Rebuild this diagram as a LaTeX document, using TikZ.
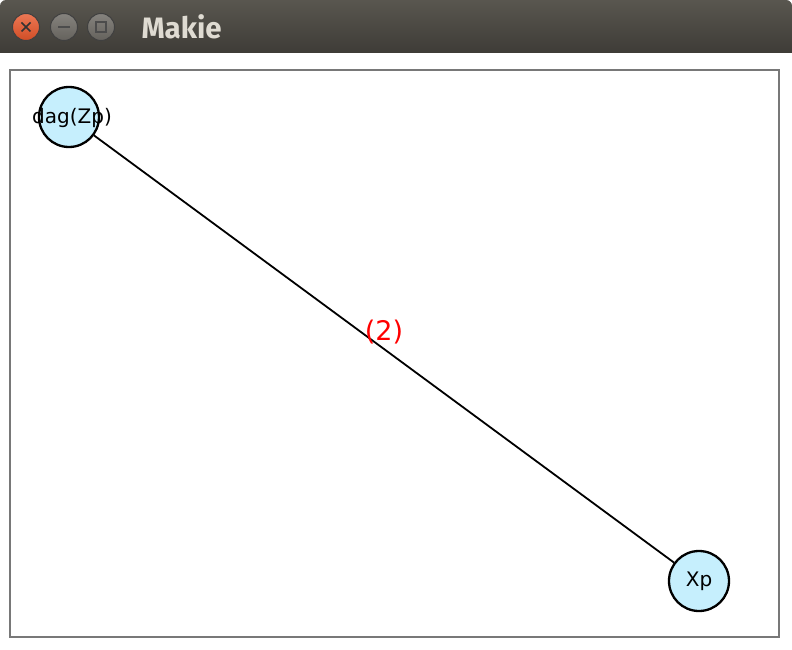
\documentclass[tikz,border=0pt]{standalone}
\usepackage{fontspec}
\setmainfont{DejaVu Sans}
\newfontfamily\titlefont{Fira Sans}

\definecolor{barTop}{RGB}{89,86,79}
\definecolor{barBottom}{RGB}{62,60,55}
\definecolor{titleGray}{RGB}{223,219,210}
\definecolor{closeOrange}{RGB}{232,86,42}
\definecolor{btnGray}{RGB}{112,109,103}
\definecolor{vertexBlue}{RGB}{198,239,253}
\definecolor{frameGray}{RGB}{120,120,120}

\newcommand{\vertexfont}{\fontsize{20}{22}\selectfont}

\tikzset{
  winbtn/.style={circle, draw=black!75, line width=1pt, minimum size=27pt, inner sep=0pt},
  vertex/.style={circle, draw=black, line width=2.3pt, fill=vertexBlue, minimum size=60pt, inner sep=0pt,
    font=\vertexfont},
}

\begin{document}
\begin{tikzpicture}[x=1pt,y=-1pt]
    \useasboundingbox (0,0) rectangle (792,650);
    \fill[white] (0,0) rectangle (792,650);

    % title bar
    \shade[top color=barTop, bottom color=barBottom] (0,53) [rounded corners=6pt] -- (0,0) -- (792,0) [sharp corners] -- (792,53) -- cycle;
    \node[winbtn, top color=closeOrange!80!white, bottom color=closeOrange!90!black] (close) at (26,27) {};
    \node[winbtn, top color=btnGray!85!white, bottom color=btnGray!90!black] (minimize) at (64,27) {};
    \node[winbtn, top color=btnGray!85!white, bottom color=btnGray!90!black] (maximize) at (101,27) {};
    \draw[line width=1.6pt, black!80] (close.center) ++(-4.5,-4.5) -- ++(9,9) ++(0,-9) -- ++(-9,9);
    \draw[line width=1.6pt, black!70] (minimize.center) ++(-6,0) -- ++(12,0);
    \draw[line width=1.4pt, black!70] (maximize.center) ++(-5,-5) rectangle ++(10,10);
    \node[anchor=west, text=titleGray, font=\titlefont\bfseries\fontsize{29.5}{32}\selectfont] (title) at (138,27) {Makie};

    % plot area
    \draw[frameGray, line width=1.3pt] (10,70) rectangle (779,637);

    \node[vertex, label={[font=\vertexfont, xshift=3pt, yshift=-1pt]center:dag(Zp)}] (dag) at (69,117) {};
    \node[vertex] (xp) at (699,581) {Xp};
    \draw[line width=1.8pt] (dag) -- (xp) node[midway, yshift=17pt, text=red, font=\fontsize{27}{29}\selectfont] (weight) {(2)};
\end{tikzpicture}
\end{document}
